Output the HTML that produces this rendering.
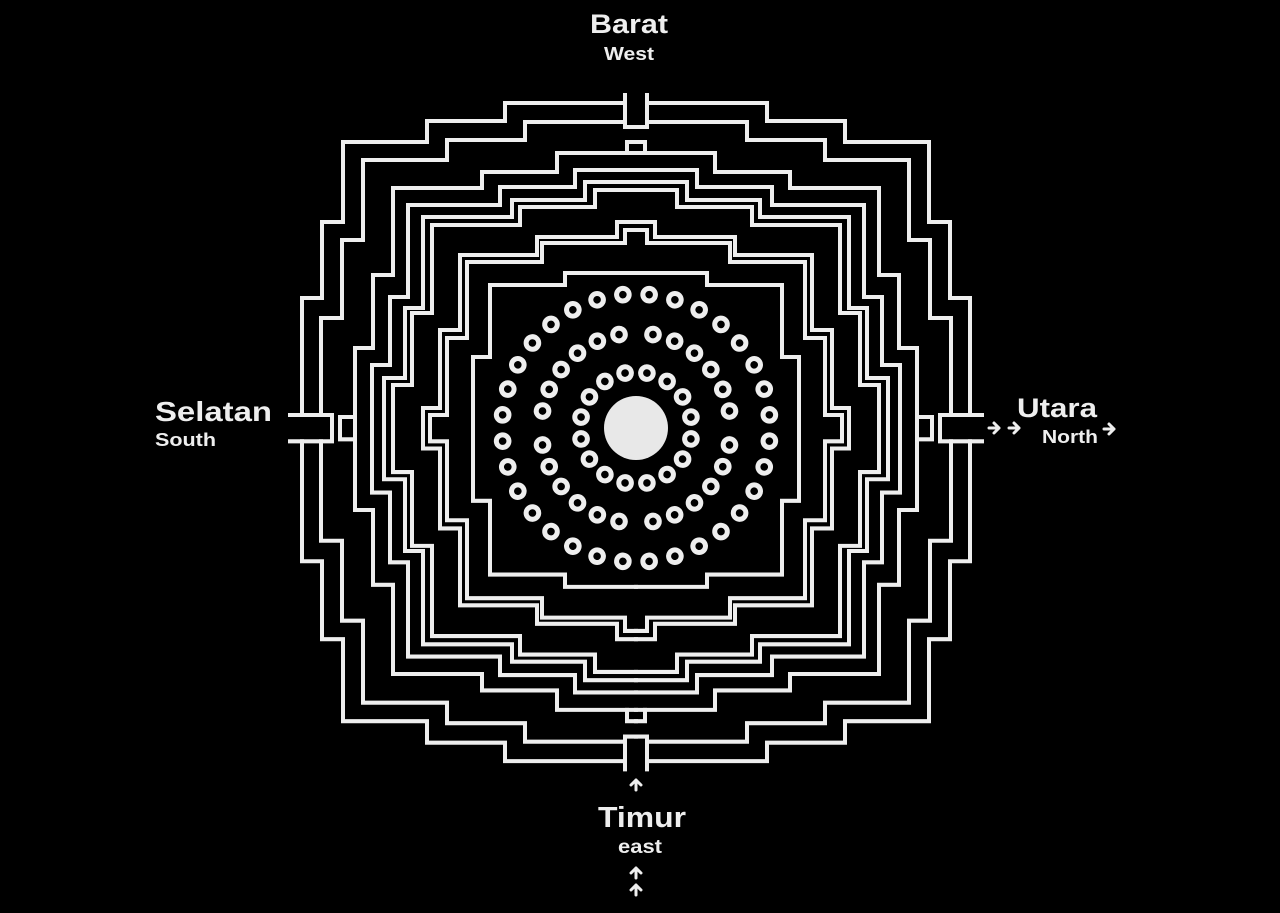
<!DOCTYPE html>
<html><head><meta charset="utf-8"><style>
html,body{margin:0;padding:0;background:#000;}
svg{display:block;}
text{font-family:"Liberation Sans",Arial,sans-serif;font-weight:bold;fill:#eee;}
</style></head><body>
<svg width="1280" height="913" viewBox="0 0 1280 913" xmlns="http://www.w3.org/2000/svg">
<rect width="1280" height="913" fill="#000"/>
<defs>
<g id="q" fill="none" stroke="#eee" stroke-width="4" stroke-linejoin="miter" stroke-linecap="square">
<path d="M625 103 H505 V121 H427 V142 H343 V222 H322 V298 H302 V415"/>
<path d="M625 122 H525 V140 H447 V160 H363 V240 H342 V318 H321 V415"/>
<path d="M636 153 H557 V172 H482 V188 H393 V275 H373 V348 H355 V428"/>
<path d="M636 170 H575 V187 H500 V205 H408 V297 H390 V365 H372 V428"/>
<path d="M636 182 H585 V200 H512 V217 H423 V308 H405 V378 H384 V428"/>
<path d="M636 190 H595 V207 H520 V225 H432 V313 H412 V385 H393 V428"/>
<path d="M636 222 H617 V237 H537 V255 H460 V330 H440 V408 H423 V428"/>
<path d="M636 230 H625 V243 H542 V262 H467 V338 H447 V415 H430 V428"/>
<path d="M636 273 H565 V285 H490 V357 H473 V428"/>
<path d="M625 95 V127 H636"/>
<path d="M290 415 H332 V428"/>
<path d="M636 142 H627 V153"/>
<path d="M355 417 H340 V428"/>
</g>
<circle id="s" cx="636" cy="0" r="6.3" fill="#000" stroke="#eee" stroke-width="5"/>
</defs>
<use href="#q"/>
<use href="#q" transform="matrix(-1,0,0,1,1272,0)"/>
<use href="#q" transform="matrix(1,0,0,-1.025,0,866.7)"/>
<use href="#q" transform="matrix(-1,0,0,-1.025,1272,866.7)"/>

<circle cx="636" cy="428" r="32" fill="#e8e8e8"/>

<g id="r1">
<use href="#s" transform="translate(0,372) rotate(11.25 636 56)"/>
<use href="#s" transform="translate(0,372) rotate(33.75 636 56)"/>
<use href="#s" transform="translate(0,372) rotate(56.25 636 56)"/>
<use href="#s" transform="translate(0,372) rotate(78.75 636 56)"/>
<use href="#s" transform="translate(0,372) rotate(101.25 636 56)"/>
<use href="#s" transform="translate(0,372) rotate(123.75 636 56)"/>
<use href="#s" transform="translate(0,372) rotate(146.25 636 56)"/>
<use href="#s" transform="translate(0,372) rotate(168.75 636 56)"/>
<use href="#s" transform="translate(0,372) rotate(191.25 636 56)"/>
<use href="#s" transform="translate(0,372) rotate(213.75 636 56)"/>
<use href="#s" transform="translate(0,372) rotate(236.25 636 56)"/>
<use href="#s" transform="translate(0,372) rotate(258.75 636 56)"/>
<use href="#s" transform="translate(0,372) rotate(281.25 636 56)"/>
<use href="#s" transform="translate(0,372) rotate(303.75 636 56)"/>
<use href="#s" transform="translate(0,372) rotate(326.25 636 56)"/>
<use href="#s" transform="translate(0,372) rotate(348.75 636 56)"/>
</g>
<g id="r2">
<use href="#s" transform="translate(0,333) rotate(10.3 636 95)"/>
<use href="#s" transform="translate(0,333) rotate(24 636 95)"/>
<use href="#s" transform="translate(0,333) rotate(38 636 95)"/>
<use href="#s" transform="translate(0,333) rotate(52 636 95)"/>
<use href="#s" transform="translate(0,333) rotate(66 636 95)"/>
<use href="#s" transform="translate(0,333) rotate(79.7 636 95)"/>
<use href="#s" transform="translate(0,333) rotate(100.3 636 95)"/>
<use href="#s" transform="translate(0,333) rotate(114 636 95)"/>
<use href="#s" transform="translate(0,333) rotate(128 636 95)"/>
<use href="#s" transform="translate(0,333) rotate(142 636 95)"/>
<use href="#s" transform="translate(0,333) rotate(156 636 95)"/>
<use href="#s" transform="translate(0,333) rotate(169.7 636 95)"/>
<use href="#s" transform="translate(0,333) rotate(190.3 636 95)"/>
<use href="#s" transform="translate(0,333) rotate(204 636 95)"/>
<use href="#s" transform="translate(0,333) rotate(218 636 95)"/>
<use href="#s" transform="translate(0,333) rotate(232 636 95)"/>
<use href="#s" transform="translate(0,333) rotate(246 636 95)"/>
<use href="#s" transform="translate(0,333) rotate(259.7 636 95)"/>
<use href="#s" transform="translate(0,333) rotate(280.3 636 95)"/>
<use href="#s" transform="translate(0,333) rotate(294 636 95)"/>
<use href="#s" transform="translate(0,333) rotate(308 636 95)"/>
<use href="#s" transform="translate(0,333) rotate(322 636 95)"/>
<use href="#s" transform="translate(0,333) rotate(336 636 95)"/>
<use href="#s" transform="translate(0,333) rotate(349.7 636 95)"/>
</g>
<g id="r3">
<use href="#s" transform="translate(0,294) rotate(5.625 636 134)"/>
<use href="#s" transform="translate(0,294) rotate(16.875 636 134)"/>
<use href="#s" transform="translate(0,294) rotate(28.125 636 134)"/>
<use href="#s" transform="translate(0,294) rotate(39.375 636 134)"/>
<use href="#s" transform="translate(0,294) rotate(50.625 636 134)"/>
<use href="#s" transform="translate(0,294) rotate(61.875 636 134)"/>
<use href="#s" transform="translate(0,294) rotate(73.125 636 134)"/>
<use href="#s" transform="translate(0,294) rotate(84.375 636 134)"/>
<use href="#s" transform="translate(0,294) rotate(95.625 636 134)"/>
<use href="#s" transform="translate(0,294) rotate(106.875 636 134)"/>
<use href="#s" transform="translate(0,294) rotate(118.125 636 134)"/>
<use href="#s" transform="translate(0,294) rotate(129.375 636 134)"/>
<use href="#s" transform="translate(0,294) rotate(140.625 636 134)"/>
<use href="#s" transform="translate(0,294) rotate(151.875 636 134)"/>
<use href="#s" transform="translate(0,294) rotate(163.125 636 134)"/>
<use href="#s" transform="translate(0,294) rotate(174.375 636 134)"/>
<use href="#s" transform="translate(0,294) rotate(185.625 636 134)"/>
<use href="#s" transform="translate(0,294) rotate(196.875 636 134)"/>
<use href="#s" transform="translate(0,294) rotate(208.125 636 134)"/>
<use href="#s" transform="translate(0,294) rotate(219.375 636 134)"/>
<use href="#s" transform="translate(0,294) rotate(230.625 636 134)"/>
<use href="#s" transform="translate(0,294) rotate(241.875 636 134)"/>
<use href="#s" transform="translate(0,294) rotate(253.125 636 134)"/>
<use href="#s" transform="translate(0,294) rotate(264.375 636 134)"/>
<use href="#s" transform="translate(0,294) rotate(275.625 636 134)"/>
<use href="#s" transform="translate(0,294) rotate(286.875 636 134)"/>
<use href="#s" transform="translate(0,294) rotate(298.125 636 134)"/>
<use href="#s" transform="translate(0,294) rotate(309.375 636 134)"/>
<use href="#s" transform="translate(0,294) rotate(320.625 636 134)"/>
<use href="#s" transform="translate(0,294) rotate(331.875 636 134)"/>
<use href="#s" transform="translate(0,294) rotate(343.125 636 134)"/>
<use href="#s" transform="translate(0,294) rotate(354.375 636 134)"/>
</g>

<!-- labels -->
<text x="590" y="33" font-size="27" textLength="78" lengthAdjust="spacingAndGlyphs">Barat</text>
<text x="604" y="60" font-size="18" textLength="50" lengthAdjust="spacingAndGlyphs">West</text>
<text x="598" y="827" font-size="29" textLength="88" lengthAdjust="spacingAndGlyphs">Timur</text>
<text x="618" y="853" font-size="19" textLength="44" lengthAdjust="spacingAndGlyphs">east</text>
<text x="155" y="421" font-size="28" textLength="117" lengthAdjust="spacingAndGlyphs">Selatan</text>
<text x="155" y="446" font-size="18" textLength="61" lengthAdjust="spacingAndGlyphs">South</text>
<text x="1017" y="417" font-size="27" textLength="80" lengthAdjust="spacingAndGlyphs">Utara</text>
<text x="1042" y="443" font-size="18" textLength="56" lengthAdjust="spacingAndGlyphs">North</text>

<!-- arrows -->
<g fill="none" stroke="#eee" stroke-width="3" stroke-linecap="round" stroke-linejoin="round">
<path d="M989 428 H999 M994 423 L999 428 L994 433"/>
<path d="M1009 428 H1019 M1014 423 L1019 428 L1014 433"/>
<path d="M1104 429 H1114 M1109 424 L1114 429 L1109 434"/>
<path d="M636 790 V780 M631 785 L636 780 L641 785"/>
<path d="M636 878 V868 M631 873 L636 868 L641 873"/>
<path d="M636 895 V885 M631 890 L636 885 L641 890"/>
</g>
</svg>
</body></html>
